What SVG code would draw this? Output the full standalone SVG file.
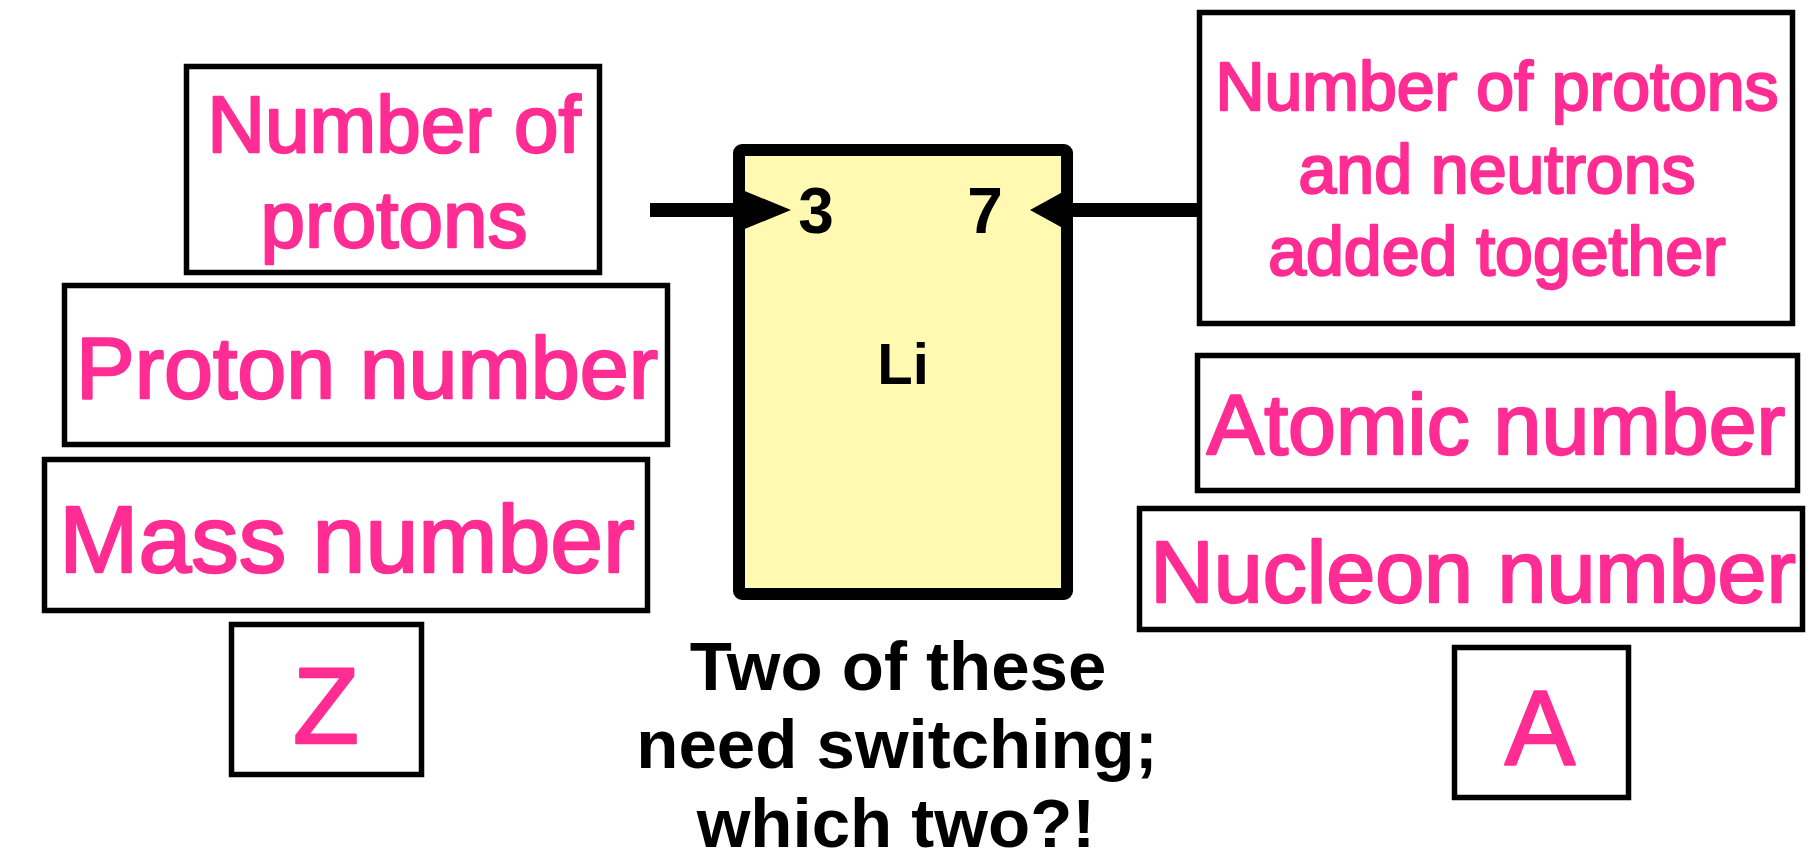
<svg xmlns="http://www.w3.org/2000/svg" width="1819" height="859" viewBox="0 0 1819 859">
<style>
.box{fill:#fff;stroke:#000;stroke-width:5.5}
.pk{fill:#FF2D93;stroke:#FF2D93;stroke-width:2.4;stroke-linejoin:round;font-family:"Liberation Sans",Arial,sans-serif;text-anchor:middle}
.bk{fill:#000;font-family:"Liberation Sans",Arial,sans-serif;font-weight:bold;text-anchor:middle}
.conn{stroke:#000;stroke-width:14;fill:none}
</style>
<rect width="1819" height="859" fill="#fff"/>
<g id="connectors">
<line class="conn" x1="650" y1="210" x2="740" y2="210"/>
<polygon points="735,187 791,210 735,233" fill="#000"/>
<line class="conn" x1="1066" y1="210" x2="1206" y2="210"/>
<polygon points="1070,188 1030,210 1070,232" fill="#000"/>
</g>
<g id="element">
<rect x="739" y="150" width="328" height="444" rx="3" fill="#FFF9B2" stroke="#000" stroke-width="12"/>
<polygon points="735,187 791,210 735,233" fill="#000"/>
<polygon points="1070,188 1030,210 1070,232" fill="#000"/>
<text class="bk" x="816" y="233" font-size="64">3</text>
<text class="bk" x="985" y="233" font-size="64">7</text>
<text class="bk" x="903" y="384" font-size="58">Li</text>
</g>
<g id="n-number-of-protons">
<rect class="box" x="186.5" y="66.5" width="413" height="206"/>
<text class="pk" x="394" y="152" font-size="80">Number of</text>
<text class="pk" x="394" y="247" font-size="80">protons</text>
</g>
<g id="n-proton-number">
<rect class="box" x="64.5" y="285.5" width="603" height="159"/>
<text class="pk" x="367" y="398" font-size="88">Proton number</text>
</g>
<g id="n-mass-number">
<rect class="box" x="44.5" y="459.5" width="603" height="151"/>
<text class="pk" x="347" y="572" font-size="95">Mass number</text>
</g>
<g id="n-z">
<rect class="box" x="231.5" y="624.5" width="190" height="150"/>
<text class="pk" x="326" y="743" font-size="108">Z</text>
</g>
<g id="n-protons-neutrons">
<rect class="box" x="1199.5" y="12.5" width="593" height="311"/>
<text class="pk" x="1497" y="110" font-size="68">Number of protons</text>
<text class="pk" x="1497" y="193" font-size="68">and neutrons</text>
<text class="pk" x="1497" y="275" font-size="68">added together</text>
</g>
<g id="n-atomic-number">
<rect class="box" x="1197.5" y="355.5" width="600" height="135"/>
<text class="pk" x="1496" y="454" font-size="86">Atomic number</text>
</g>
<g id="n-nucleon-number">
<rect class="box" x="1139.5" y="508.5" width="663" height="121"/>
<text class="pk" x="1473" y="602" font-size="88">Nucleon number</text>
</g>
<g id="n-a">
<rect class="box" x="1454.5" y="647.5" width="174" height="150"/>
<text class="pk" x="1540" y="764" font-size="105">A</text>
</g>
<g id="caption">
<text class="bk" x="898" y="690" font-size="69">Two of these</text>
<text class="bk" x="897" y="768" font-size="69">need switching;</text>
<text class="bk" x="896" y="847" font-size="69">which two?!</text>
</g>
</svg>
